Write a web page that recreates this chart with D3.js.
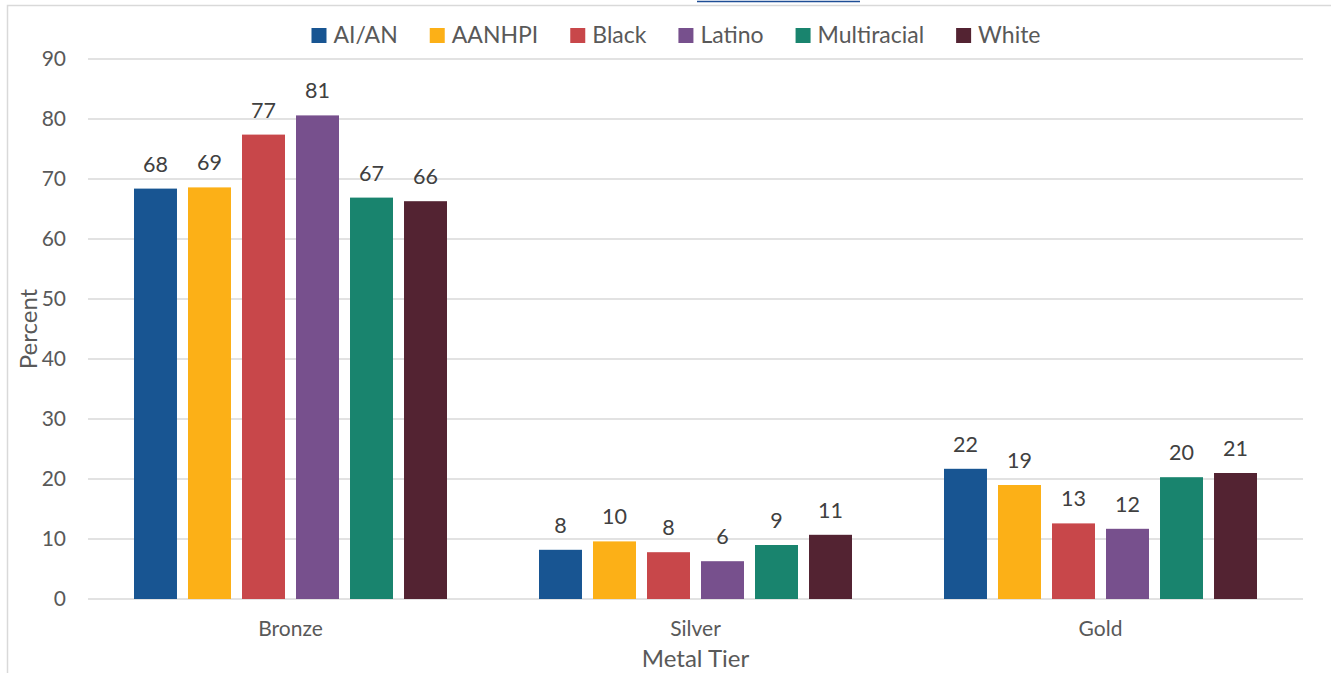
<!DOCTYPE html>
<html>
<head>
<meta charset="utf-8">
<script src="https://cdn.jsdelivr.net/npm/d3@7"></script>
<style>
  html, body { margin: 0; padding: 0; background: #fff; }
  svg { display: block; font-family: Lato, "Open Sans", sans-serif; }
</style>
</head>
<body>
<script>
// metal tier categories and race/ethnicity groups
const categories = ["Bronze", "Silver", "Gold"];
const groups = ["AI/AN", "AANHPI", "Black", "Latino", "Multiracial", "White"];
const colors = ["#185592", "#fcb017", "#c8474a", "#77508d", "#19846e", "#532332"];

// percent in each tier, one array per group (Bronze, Silver, Gold)
const aian = [68.4, 8.2, 21.7];
const aanhpi = [68.6, 9.6, 19.0];
const black = [77.4, 7.8, 12.6];
const latino = [80.6, 6.3, 11.7];
const multiracial = [66.9, 9.0, 20.3];
const white = [66.3, 10.7, 21.0];

const yTicks = [0, 10, 20, 30, 40, 50, 60, 70, 80, 90];

const seriesValues = [aian, aanhpi, black, latino, multiracial, white];
const rows = [];
categories.forEach((c, ci) => {
    groups.forEach((g, gi) => rows.push({ cat: c, group: g, value: seriesValues[gi][ci] }));
});

const W = 1331, H = 673;
const margin = { top: 59, right: 28, bottom: 74, left: 88 },
    width = W - margin.left - margin.right,
    height = H - margin.top - margin.bottom;

const svg = d3.select("body").append("svg")
    .attr("width", W)
    .attr("height", H);

// chart frame (cut by the page edge) and hyperlink underline from the title above
svg.append("path")
    .attr("d", `M7.5,${H} V5.5 H${W}`)
    .attr("fill", "none")
    .attr("stroke", "#d9d9d9")
    .attr("stroke-width", 1.5);
svg.append("line")
    .attr("x1", 697).attr("x2", 860)
    .attr("y1", 1.5).attr("y2", 1.5)
    .attr("stroke", "#1f4e96")
    .attr("stroke-width", 1.5);

const g = svg.append("g")
    .attr("transform", `translate(${margin.left},${margin.top})`);

const x0 = d3.scaleBand()
    .domain(categories)
    .range([0, width]);

const groupSpan = 313;
const x1 = d3.scaleBand()
    .domain(groups)
    .range([(x0.bandwidth() - groupSpan) / 2, (x0.bandwidth() + groupSpan) / 2])
    .paddingInner(0.204)
    .paddingOuter(0);

const y = d3.scaleLinear()
    .domain([0, 90])
    .range([height, 0]);

const color = d3.scaleOrdinal().domain(groups).range(colors);

// gridlines
g.append("g")
    .selectAll("line")
    .data(yTicks)
    .join("line")
    .attr("x1", 0)
    .attr("x2", width)
    .attr("y1", d => y(d))
    .attr("y2", d => y(d))
    .attr("stroke", "#d9d9d9")
    .attr("stroke-width", 1.5);

// y axis labels
const yAxis = g.append("g")
    .call(d3.axisLeft(y).tickValues(yTicks).tickSize(0).tickPadding(22));
yAxis.select(".domain").remove();
yAxis.selectAll("text")
    .attr("font-size", 21)
    .attr("font-family", "Lato, sans-serif")
    .attr("fill", "#595959");

// x axis labels
const xAxis = g.append("g")
    .attr("transform", `translate(0,${height})`)
    .call(d3.axisBottom(x0).tickSize(0).tickPadding(22));
xAxis.select(".domain").remove();
xAxis.selectAll("text")
    .attr("font-size", 21)
    .attr("font-family", "Lato, sans-serif")
    .attr("fill", "#595959");

// bars
const bars = g.append("g")
    .selectAll("g")
    .data(rows)
    .join("g")
    .attr("transform", d => `translate(${x0(d.cat) + x1(d.group)},0)`);

bars.append("rect")
    .attr("x", 0)
    .attr("y", d => y(d.value))
    .attr("width", x1.bandwidth())
    .attr("height", d => height - y(d.value))
    .attr("fill", d => color(d.group));

bars.append("text")
    .attr("x", x1.bandwidth() / 2)
    .attr("y", d => y(d.value) - 17)
    .attr("text-anchor", "middle")
    .attr("font-size", 21.5)
    .attr("fill", "#404040")
    .text(d => d3.format(".0f")(d.value));

// axis titles
svg.append("text")
    .attr("transform", `translate(37,${margin.top + height / 2}) rotate(-90)`)
    .attr("text-anchor", "middle")
    .attr("font-size", 24)
    .attr("fill", "#595959")
    .text("Percent");

svg.append("text")
    .attr("x", margin.left + width / 2)
    .attr("y", 667)
    .attr("text-anchor", "middle")
    .attr("font-size", 24)
    .attr("fill", "#595959")
    .text("Metal Tier");

// legend, centred over the whole chart area
const legend = svg.append("g");
const items = legend.selectAll("g")
    .data(groups)
    .join("g");
items.append("rect")
    .attr("y", 28)
    .attr("width", 15)
    .attr("height", 15)
    .attr("fill", d => color(d));
items.append("text")
    .attr("x", 22)
    .attr("y", 43)
    .attr("font-size", 23)
    .attr("fill", "#595959")
    .text(d => d);

let cursor = 0;
items.each(function () {
    const item = d3.select(this);
    item.attr("transform", `translate(${cursor},0)`);
    cursor += 22 + item.select("text").node().getComputedTextLength() + 32;
});
const legendWidth = cursor - 32;
legend.attr("transform", `translate(${676 - legendWidth / 2},0)`);
</script>
</body>
</html>
